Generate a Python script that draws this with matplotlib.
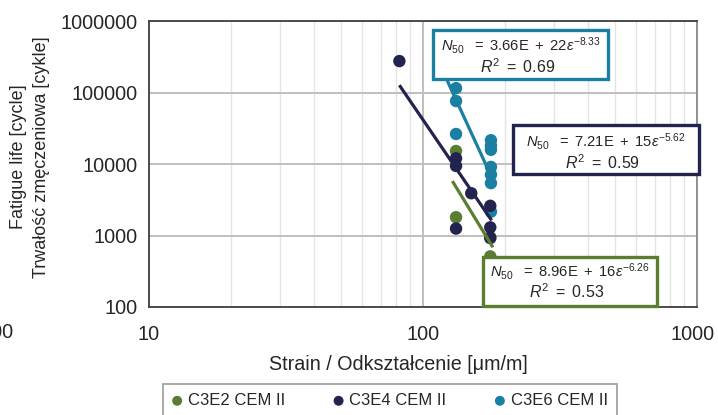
import numpy as np
import matplotlib
matplotlib.use("Agg")
import matplotlib.pyplot as plt
import matplotlib.transforms as mtransforms
from matplotlib.patches import Rectangle
from matplotlib.ticker import FixedLocator, NullFormatter

plt.rcParams['font.family'] = ['Liberation Sans', 'DejaVu Sans']
plt.rcParams['mathtext.fontset'] = 'custom'
plt.rcParams['mathtext.rm'] = 'Liberation Sans'
plt.rcParams['mathtext.it'] = 'Liberation Sans:italic'
plt.rcParams['mathtext.bf'] = 'Liberation Sans:bold'

# ---- data ----
series_names = ["C3E2 CEM II", "C3E4 CEM II", "C3E6 CEM II"]
colors = ["#5b7d2f", "#23234f", "#1b7fa2"]

green_x = [132, 132, 176, 176]
green_y = [15200, 1800, 950, 510]

navy_x = [82, 132, 132, 132, 150, 176, 176, 176]
navy_y = [275000, 12000, 9400, 1250, 3900, 2600, 1300, 920]

teal_x = [132, 132, 132, 177, 177, 177, 177, 177, 177, 177]
teal_y = [115000, 76000, 26300, 21500, 18000, 15800, 9100, 7100, 5400, 2150]

# fit parameters N = A * eps^b, and strain range of fitted line
fit_A = [8.96e16, 7.21e15, 3.66e22]
fit_b = [-6.26, -5.62, -8.33]
fit_range = [(128, 180), (82, 178), (122, 176)]
fit_r2 = ["0.53", "0.59", "0.69"]
fit_mant_txt = ["8.96", "7.21", "3.66"]
fit_exp_txt = ["16", "15", "22"]
fit_b_txt = ["6.26", "5.62", "8.33"]

x_major = [10, 100, 1000]
y_major = [100, 1000, 10000, 100000, 1000000]

W, H = 718, 415
fig = plt.figure(figsize=(W / 100, H / 100), dpi=100)
ax = fig.add_axes([149 / W, 1 - 307 / H, (697 - 149) / W, (307 - 21) / H])
ax.set_xscale('log')
ax.set_yscale('log')
ax.set_xlim(10, 1000)
ax.set_ylim(100, 1000000)

ax.xaxis.set_major_locator(FixedLocator(x_major))
ax.yaxis.set_major_locator(FixedLocator(y_major))
ax.set_xticklabels([str(v) for v in x_major])
ax.set_yticklabels([str(v) for v in y_major])
minors = [m * 10 ** k for k in (1, 2) for m in range(2, 10)]
ax.xaxis.set_minor_locator(FixedLocator(minors))
ax.xaxis.set_minor_formatter(NullFormatter())
ax.yaxis.set_minor_locator(FixedLocator([]))
ax.tick_params(which='both', length=0, labelsize=14.3, colors='#262626')
ax.tick_params(axis='x', pad=13)
ax.tick_params(axis='y', pad=8)
last = ax.get_xticklabels()[-1]
last.set_transform(last.get_transform() +
                   mtransforms.ScaledTranslation(-4 / 100, 0, fig.dpi_scale_trans))
ax.grid(which='major', color='#bfbfbf', lw=1.4, zorder=0)
ax.grid(which='minor', axis='x', color='#e4e4e4', lw=1.0, zorder=0)
for s in ax.spines.values():
    s.set_color('#404040')
    s.set_linewidth(1.3)
ax.spines['right'].set_color('#8a8a8a')

xs_list = [green_x, navy_x, teal_x]
ys_list = [green_y, navy_y, teal_y]
zs = [3, 5, 4]
for i in range(3):
    ax.scatter(xs_list[i], ys_list[i], s=80, color=colors[i], zorder=zs[i],
               edgecolors='none', label=series_names[i])
for i in range(3):
    e = np.array(fit_range[i], dtype=float)
    ax.plot(e, fit_A[i] * e ** fit_b[i], color=colors[i], lw=2.3, zorder=6,
            solid_capstyle='butt')

fig.text(398 / W, 1 - 364 / H, "Strain / Odkształcenie [μm/m]", fontsize=14.2,
         color='#262626', ha='center', va='center')
fig.text(30 / W, 1 - 157 / H, "Fatigue life [cycle]\nTrwałość zmęczeniowa [cykle]",
         fontsize=13, color='#262626', ha='center', va='center', rotation=90,
         linespacing=1.5, multialignment='center')

# equation boxes (pixel geometry)
boxes = [(483, 257, 657, 306), (513, 125, 699, 174), (433, 30, 608, 79)]
line1_y = [271, 141, 45]
line2_y = [292, 163, 67]
for i in range(3):
    x0, y0, x1, y1 = boxes[i]
    fig.patches.append(Rectangle((x0 / W, 1 - y1 / H), (x1 - x0) / W, (y1 - y0) / H,
                                 transform=fig.transFigure, facecolor='white',
                                 edgecolor=colors[i], lw=2.4, zorder=10))
    cx = (x0 + x1) / 2 / W
    t1 = (r'$N_{50}\ \ =\ ' + fit_mant_txt[i] + r'\mathrm{E}\ +\ ' + fit_exp_txt[i] +
          r'\varepsilon^{-' + fit_b_txt[i] + r'}$')
    fig.text(cx, 1 - line1_y[i] / H, t1, ha='center', va='center', fontsize=10.6,
             color='#262626', zorder=11)
    fig.text(cx - 3 / W, 1 - line2_y[i] / H, r'$R^{2}\ =\ $' + fit_r2[i], ha='center',
             va='center', fontsize=11.5, color='#262626', zorder=11)

leg = fig.legend(loc='upper center', bbox_to_anchor=(390 / W, 1 - 384 / H), ncol=3,
                 frameon=True, fancybox=False, edgecolor='#8c8c8c', fontsize=12,
                 handlelength=0.6, handletextpad=0.35, columnspacing=2.9,
                 markerscale=0.8, borderpad=0.55, borderaxespad=0)
leg.get_frame().set_linewidth(1.3)
for t in leg.get_texts():
    t.set_color('#262626')

fig.text(14 / W, 1 - 332 / H, "100", ha='right', va='center', fontsize=14.3, color='#262626')

fig.savefig("out.png", dpi=100)
